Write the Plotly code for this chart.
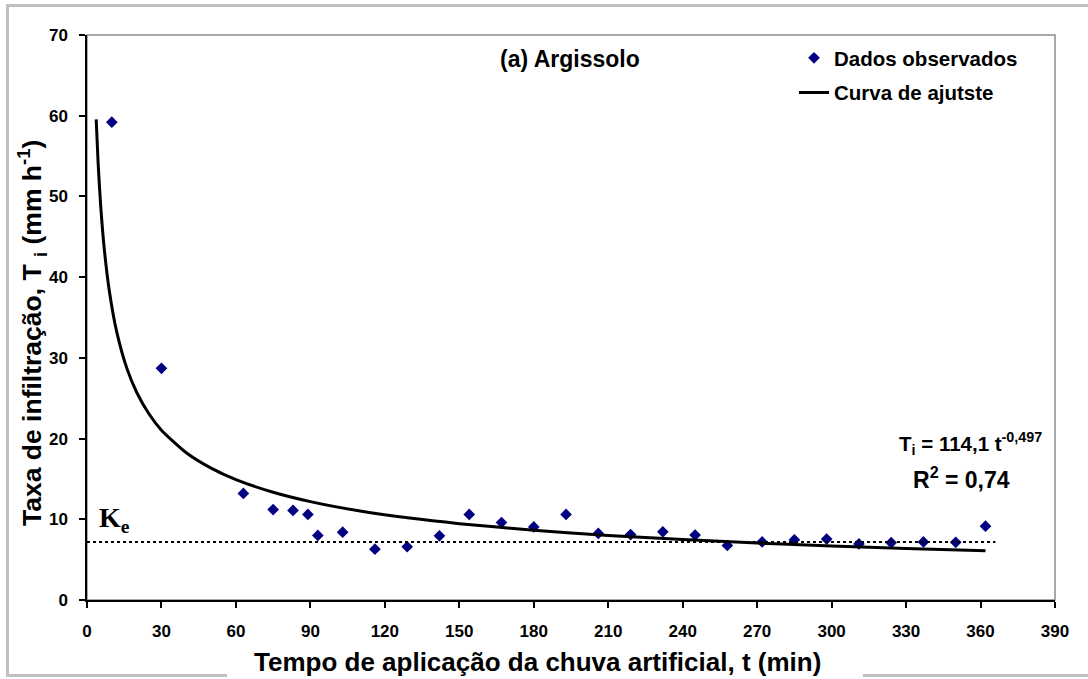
import plotly.graph_objects as go

# ---- data ----
t_obs = [10, 30, 63, 75, 83, 89, 93, 103, 116, 129, 142, 154, 167, 180, 193,
         206, 219, 232, 245, 258, 272, 285, 298, 311, 324, 337, 350, 362]
ti_obs = [59.2, 28.7, 13.2, 11.2, 11.1, 10.6, 8.0, 8.4, 6.3, 6.6, 7.95, 10.6, 9.6, 9.05, 10.6,
          8.25, 8.1, 8.45, 8.05, 6.75, 7.2, 7.45, 7.55, 6.95, 7.1, 7.2, 7.15, 9.15]

t_fit = [3.7, 4.5, 5.5, 7, 9, 12, 16, 20, 25, 30, 40, 50, 60, 75, 90, 110, 130,
         150, 180, 210, 240, 270, 300, 330, 362]
ti_fit = [59.55, 54.03, 48.90, 43.38, 38.29, 33.18, 28.76, 25.74, 23.04, 21.04, 18.24,
          16.33, 14.91, 13.35, 12.19, 11.03, 10.15, 9.46, 8.64, 8.00, 7.49, 7.06,
          6.70, 6.39, 6.10]

ke_t = [0, 366]
ke_val = [7.2, 7.2]

x_ticks = list(range(0, 391, 30))
y_ticks = list(range(0, 71, 10))

# ---- layout geometry (pixels) ----
W, H = 1088, 679
L, R, T, B = 87, 1055, 35, 600

def px(x):
    return (x - L) / (R - L)

def py(y):
    return (B - y) / (B - T)

FONT = "Liberation Sans, Arial, sans-serif"

fig = go.Figure()
fig.add_trace(go.Scatter(
    x=t_obs, y=ti_obs, mode="markers", name="Dados observados",
    marker=dict(symbol="diamond", size=9, color="#000080"),
    legendgroup="a", cliponaxis=False))
fig.add_trace(go.Scatter(
    x=t_fit, y=ti_fit, mode="lines", name="Curva de ajutste",
    line=dict(color="black", width=3, shape="spline", smoothing=0.6),
    legendgroup="b"))
fig.add_trace(go.Scatter(
    x=ke_t, y=ke_val, mode="lines", showlegend=False,
    line=dict(color="black", width=2, dash="dot")))

shapes = [
    # plot area border (gray top/right)
    dict(type="rect", xref="paper", yref="paper", x0=0, x1=1, y0=0, y1=1,
         line=dict(color="#8c8c8c", width=1.5), layer="below"),
    # outer frame
    dict(type="line", xref="paper", yref="paper", x0=px(7.5), x1=px(7.5), y0=py(5.5), y1=py(675.5),
         line=dict(color="#c0c0c0", width=3)),
    dict(type="line", xref="paper", yref="paper", x0=px(6), x1=px(1100), y0=py(5.5), y1=py(5.5),
         line=dict(color="#c0c0c0", width=3)),
    dict(type="line", xref="paper", yref="paper", x0=px(6), x1=px(227), y0=py(675.5), y1=py(675.5),
         line=dict(color="#c0c0c0", width=3)),
    dict(type="line", xref="paper", yref="paper", x0=px(863), x1=px(1100), y0=py(675.5), y1=py(675.5),
         line=dict(color="#c0c0c0", width=3)),
]

annotations = [
    dict(text="(a) Argissolo", x=px(570), y=py(59), xref="paper", yref="paper",
         showarrow=False, xanchor="center", yanchor="middle",
         font=dict(family=FONT, size=23, color="black", weight="bold")),
    dict(text="T<sub>i</sub> = 114,1 t<sup>-0,497</sup>", x=px(1044), y=py(443),
         xref="paper", yref="paper", showarrow=False, xanchor="right", yanchor="middle",
         font=dict(family=FONT, size=20.5, color="black", weight="bold")),
    dict(text="R<sup>2</sup> = 0,74", x=px(1012), y=py(478),
         xref="paper", yref="paper", showarrow=False, xanchor="right", yanchor="middle",
         font=dict(family=FONT, size=23, color="black", weight="bold")),
    dict(text="K<sub>e</sub>", x=px(97), y=py(519), xref="paper", yref="paper",
         showarrow=False, xanchor="left", yanchor="middle",
         font=dict(family="Liberation Serif, Times New Roman, serif", size=28,
                   color="black", weight="bold")),
    dict(text="Tempo de aplicação da chuva artificial, t (min)", x=px(537), y=py(662),
         xref="paper", yref="paper", showarrow=False, xanchor="center", yanchor="middle",
         font=dict(family=FONT, size=26, color="black", weight="bold")),
    dict(text="Taxa de infiltração, T <sub>i</sub> (mm h<sup>-1</sup>)", x=px(32), y=py(333),
         xref="paper", yref="paper", showarrow=False, xanchor="center", yanchor="middle",
         textangle=-90,
         font=dict(family=FONT, size=26.5, color="black", weight="bold")),
]

fig.update_layout(
    width=W, height=H,
    margin=dict(l=L, r=W - R, t=T, b=H - B, pad=0),
    paper_bgcolor="white", plot_bgcolor="white",
    shapes=shapes, annotations=annotations,
    legend=dict(x=px(794), y=py(38), xanchor="left", yanchor="top",
                font=dict(family=FONT, size=20.5, color="black", weight="bold"),
                bgcolor="rgba(0,0,0,0)", tracegroupgap=5, traceorder="grouped"),
    xaxis=dict(range=[0, 390], tickvals=x_ticks, ticktext=[str(v) for v in x_ticks],
               showgrid=False, zeroline=False, showline=True, linecolor="black", linewidth=1.5,
               ticks="outside", ticklen=6, tickwidth=1.5, tickcolor="black",
               ticklabelstandoff=9,
               tickfont=dict(family=FONT, size=17, color="black", weight="bold")),
    yaxis=dict(range=[0, 70], tickvals=y_ticks, ticktext=[str(v) for v in y_ticks],
               showgrid=False, zeroline=False, showline=True, linecolor="black", linewidth=1.5,
               ticks="outside", ticklen=6, tickwidth=1.5, tickcolor="black",
               ticklabelstandoff=8,
               tickfont=dict(family=FONT, size=17, color="black", weight="bold")),
)

fig.write_html("out.html", config={"displayModeBar": False},
               post_script="document.body.style.margin='0px';document.body.style.overflow='hidden';")
